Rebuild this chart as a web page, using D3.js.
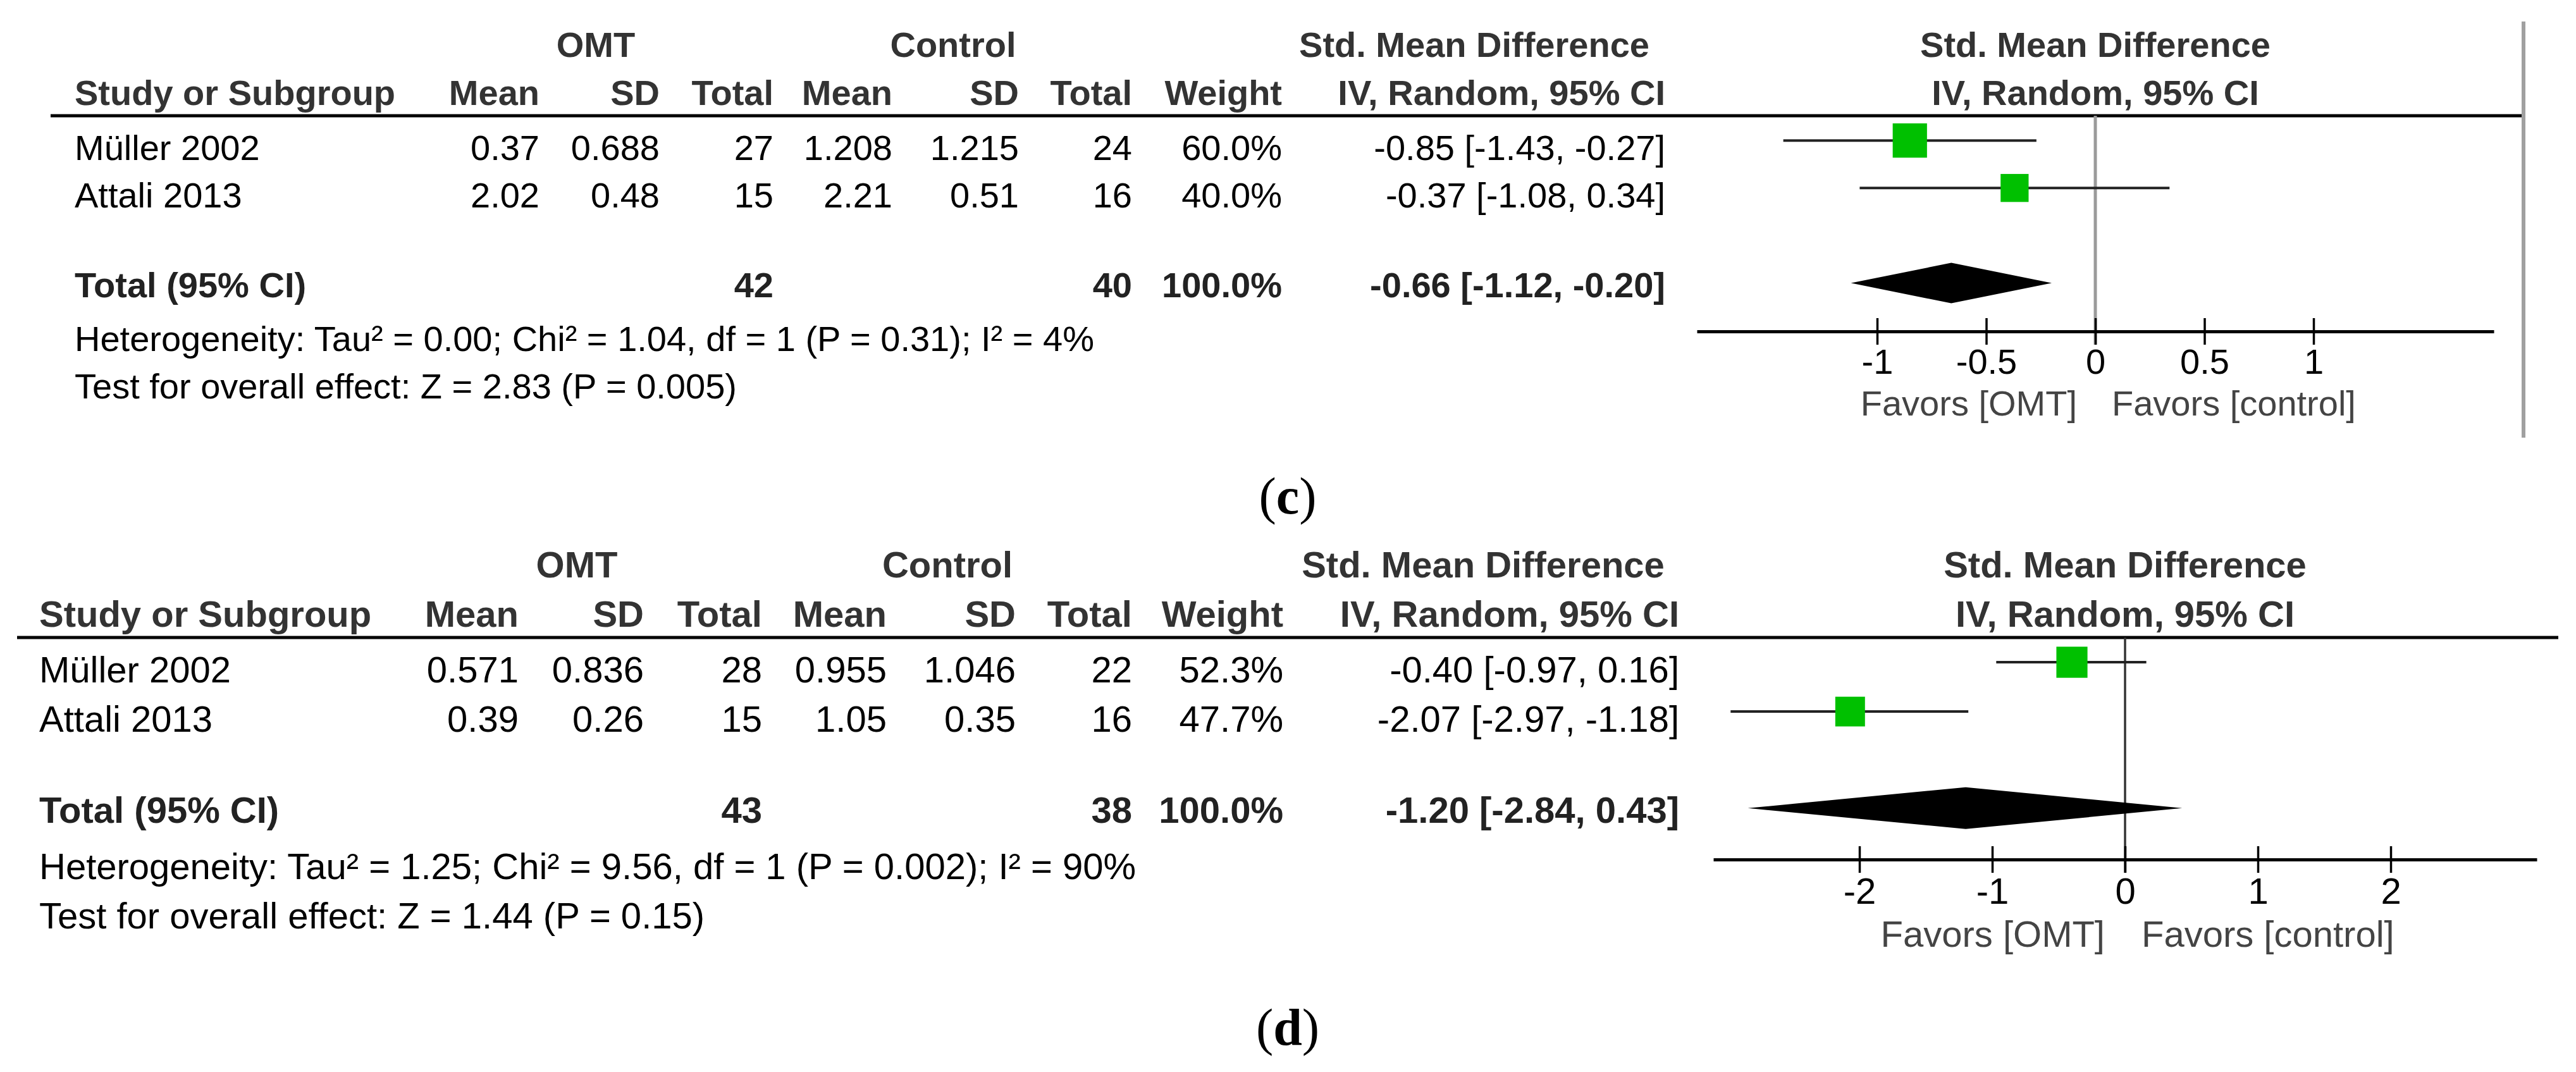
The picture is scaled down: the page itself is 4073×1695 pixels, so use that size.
<!DOCTYPE html>
<html><head><meta charset="utf-8">
<script src="https://cdn.jsdelivr.net/npm/d3@7"></script>
<style>html,body{margin:0;padding:0;background:#fff;} svg{display:block;}</style>
</head><body>
<svg id="chart" width="4073" height="1695"></svg>
<script>
// ---------- DATA ----------
const studies = ["Müller 2002", "Attali 2013"];
const colHeaders = ["Study or Subgroup", "Mean", "SD", "Total", "Mean", "SD", "Total", "Weight", "IV, Random, 95% CI"];
const groupHeaders = ["OMT", "Control", "Std. Mean Difference"];
const plotHeaders = ["Std. Mean Difference", "IV, Random, 95% CI"];
const favorLabels = ["Favors [OMT]", "Favors [control]"];

// panel (c)
const cOmtMean = ["0.37", "2.02"];
const cOmtSD = ["0.688", "0.48"];
const cOmtN = [27, 15];
const cCtlMean = ["1.208", "2.21"];
const cCtlSD = ["1.215", "0.51"];
const cCtlN = [24, 16];
const cWeight = [60.0, 40.0];
const cSMD = [-0.85, -0.37];
const cLo = [-1.43, -1.08];
const cHi = [-0.27, 0.34];
const cTotalN = [42, 40];
const cTotalEst = [-0.66, -1.12, -0.20];
const cTicks = [-1, -0.5, 0, 0.5, 1];
const cHet = "Heterogeneity: Tau² = 0.00; Chi² = 1.04, df = 1 (P = 0.31); I² = 4%";
const cTest = "Test for overall effect: Z = 2.83 (P = 0.005)";

// panel (d)
const dOmtMean = ["0.571", "0.39"];
const dOmtSD = ["0.836", "0.26"];
const dOmtN = [28, 15];
const dCtlMean = ["0.955", "1.05"];
const dCtlSD = ["1.046", "0.35"];
const dCtlN = [22, 16];
const dWeight = [52.3, 47.7];
const dSMD = [-0.40, -2.07];
const dLo = [-0.97, -2.97];
const dHi = [0.16, -1.18];
const dTotalN = [43, 38];
const dTotalEst = [-1.20, -2.84, 0.43];
const dTicks = [-2, -1, 0, 1, 2];
const dHet = "Heterogeneity: Tau² = 1.25; Chi² = 9.56, df = 1 (P = 0.002); I² = 90%";
const dTest = "Test for overall effect: Z = 1.44 (P = 0.15)";

// ---------- LAYOUT ----------
const SANS = "'Liberation Sans', Arial, Helvetica, sans-serif";
const SERIF = "'Liberation Serif', 'Times New Roman', serif";

const panels = [
  {
    label: "c", labelY: 812,
    data: {omtMean: cOmtMean, omtSD: cOmtSD, omtN: cOmtN, ctlMean: cCtlMean, ctlSD: cCtlSD, ctlN: cCtlN,
           weight: cWeight, smd: cSMD, lo: cLo, hi: cHi, totalN: cTotalN, totalEst: cTotalEst,
           ticks: cTicks, het: cHet, test: cTest},
    fs: 56,
    studyX: 118,
    colX: [853, 1043, 1223, 1411, 1611, 1790, 2027, 2633],
    groupX: [942, 1507, 2331],
    headY1: 90, headY2: 166,
    lineY: 183, lineX0: 80, lineX1: 3990,
    rowY: [253, 328], totalY: 470, hetY: 555, testY: 630,
    domain: [-1.826, 1.826], range: [2683, 3943],
    axisY: 524, tickLabelDy: 67, favorDy: 133, favorGap: [29, 26],
    zeroColor: "#9a9a9a", zeroWidth: 5,
    sqK: 70, diaH: 32, axisW: 5,
    rightLine: {x: 3990, y0: 34, y1: 692}
  },
  {
    label: "d", labelY: 1652,
    data: {omtMean: dOmtMean, omtSD: dOmtSD, omtN: dOmtN, ctlMean: dCtlMean, ctlSD: dCtlSD, ctlN: dCtlN,
           weight: dWeight, smd: dSMD, lo: dLo, hi: dHi, totalN: dTotalN, totalEst: dTotalEst,
           ticks: dTicks, het: dHet, test: dTest},
    fs: 58,
    studyX: 62,
    colX: [820, 1018, 1205, 1402, 1606, 1790, 2029, 2655],
    groupX: [912, 1498, 2345],
    headY1: 913, headY2: 991,
    lineY: 1008, lineX0: 27, lineX1: 4045,
    rowY: [1079, 1157], totalY: 1301, hetY: 1390, testY: 1468,
    domain: [-3.1, 3.1], range: [2709, 4011],
    axisY: 1359, tickLabelDy: 70, favorDy: 138, favorGap: [32, 26],
    zeroColor: "#333", zeroWidth: 3.5,
    sqK: 68, diaH: 33, axisW: 5,
    rightLine: null
  }
];

const svg = d3.select("#chart");
svg.append("rect").attr("width", 4073).attr("height", 1695).attr("fill", "#fff");

function txt(g, x, y, s, opts = {}) {
  return g.append("text")
    .attr("x", x).attr("y", y)
    .attr("text-anchor", opts.anchor || "start")
    .attr("font-family", opts.family || SANS)
    .attr("font-size", opts.fs)
    .attr("font-weight", opts.bold ? "bold" : "normal")
    .attr("fill", opts.color || "#000")
    .text(s);
}

panels.forEach(p => {
  const g = svg.append("g");
  const D = p.data;
  const fs = p.fs;
  const x = d3.scaleLinear().domain(p.domain).range(p.range);
  const x0 = x(0);

  // group headers
  groupHeaders.forEach((h, i) => txt(g, p.groupX[i], p.headY1, h, {fs, bold: true, anchor: "middle", color: "#333"}));
  txt(g, x0, p.headY1, plotHeaders[0], {fs, bold: true, anchor: "middle", color: "#333"});
  txt(g, x0, p.headY2, plotHeaders[1], {fs, bold: true, anchor: "middle", color: "#333"});

  // column headers
  txt(g, p.studyX, p.headY2, colHeaders[0], {fs, bold: true, color: "#333"});
  colHeaders.slice(1).forEach((h, i) => txt(g, p.colX[i], p.headY2, h, {fs, bold: true, anchor: "end", color: "#333"}));

  // header rule
  g.append("line").attr("x1", p.lineX0).attr("x2", p.lineX1).attr("y1", p.lineY).attr("y2", p.lineY)
    .attr("stroke", "#000").attr("stroke-width", 5);

  // study rows
  studies.forEach((s, i) => {
    const y = p.rowY[i];
    txt(g, p.studyX, y, s, {fs});
    const vals = [D.omtMean[i], D.omtSD[i], D.omtN[i], D.ctlMean[i], D.ctlSD[i], D.ctlN[i],
      D.weight[i].toFixed(1) + "%",
      `${D.smd[i].toFixed(2)} [${D.lo[i].toFixed(2)}, ${D.hi[i].toFixed(2)}]`];
    vals.forEach((v, j) => txt(g, p.colX[j], y, v, {fs, anchor: "end"}));
  });

  // total row
  txt(g, p.studyX, p.totalY, "Total (95% CI)", {fs, bold: true, color: "#222"});
  txt(g, p.colX[2], p.totalY, D.totalN[0], {fs, bold: true, anchor: "end", color: "#222"});
  txt(g, p.colX[5], p.totalY, D.totalN[1], {fs, bold: true, anchor: "end", color: "#222"});
  txt(g, p.colX[6], p.totalY, "100.0%", {fs, bold: true, anchor: "end", color: "#222"});
  txt(g, p.colX[7], p.totalY,
    `${D.totalEst[0].toFixed(2)} [${D.totalEst[1].toFixed(2)}, ${D.totalEst[2].toFixed(2)}]`,
    {fs, bold: true, anchor: "end", color: "#222"});

  txt(g, p.studyX, p.hetY, D.het, {fs});
  txt(g, p.studyX, p.testY, D.test, {fs});

  // zero line
  g.append("line").attr("x1", x0).attr("x2", x0).attr("y1", p.lineY).attr("y2", p.axisY + 21)
    .attr("stroke", p.zeroColor).attr("stroke-width", p.zeroWidth);

  // CIs and squares
  studies.forEach((s, i) => {
    const cy = p.rowY[i] - 0.55 * fs;
    g.append("line").attr("x1", x(D.lo[i])).attr("x2", x(D.hi[i])).attr("y1", cy).attr("y2", cy)
      .attr("stroke", "#222").attr("stroke-width", 4);
    const side = p.sqK * Math.sqrt(D.weight[i] / 100);
    g.append("rect").attr("x", x(D.smd[i]) - side / 2).attr("y", cy - side / 2)
      .attr("width", side).attr("height", side).attr("fill", "#00c000");
  });

  // diamond
  const dy = p.totalY - 0.4 * fs;
  const [est, lo, hi] = D.totalEst;
  g.append("path")
    .attr("d", `M${x(lo)},${dy} L${x(est)},${dy - p.diaH} L${x(hi)},${dy} L${x(est)},${dy + p.diaH} Z`)
    .attr("fill", "#000");

  // axis
  const axis = d3.axisBottom(x).tickValues(D.ticks).tickFormat(d => String(d)).tickSizeInner(21).tickSizeOuter(0);
  const ag = g.append("g").attr("transform", `translate(0,${p.axisY})`).call(axis);
  ag.attr("font-family", SANS).attr("font-size", fs);
  ag.select(".domain").attr("stroke", "#000").attr("stroke-width", p.axisW);
  ag.selectAll(".tick line").attr("y1", -21).attr("y2", 21).attr("stroke", "#000").attr("stroke-width", 3.5);
  ag.selectAll(".tick text").attr("y", p.tickLabelDy).attr("dy", null).attr("fill", "#000");

  // favors labels
  txt(g, x0 - p.favorGap[0], p.axisY + p.favorDy, favorLabels[0], {fs, anchor: "end", color: "#444"});
  txt(g, x0 + p.favorGap[1], p.axisY + p.favorDy, favorLabels[1], {fs, anchor: "start", color: "#444"});

  // right border line
  if (p.rightLine) {
    g.append("line").attr("x1", p.rightLine.x).attr("x2", p.rightLine.x)
      .attr("y1", p.rightLine.y0).attr("y2", p.rightLine.y1)
      .attr("stroke", "#a0a0a0").attr("stroke-width", 6);
  }

  // panel label
  const lt = g.append("text").attr("x", 2036).attr("y", p.labelY).attr("text-anchor", "middle")
    .attr("font-family", SERIF).attr("font-size", 82).attr("fill", "#000");
  lt.append("tspan").text("(");
  lt.append("tspan").attr("font-weight", "bold").text(p.label);
  lt.append("tspan").text(")");
});
</script>
</body></html>
